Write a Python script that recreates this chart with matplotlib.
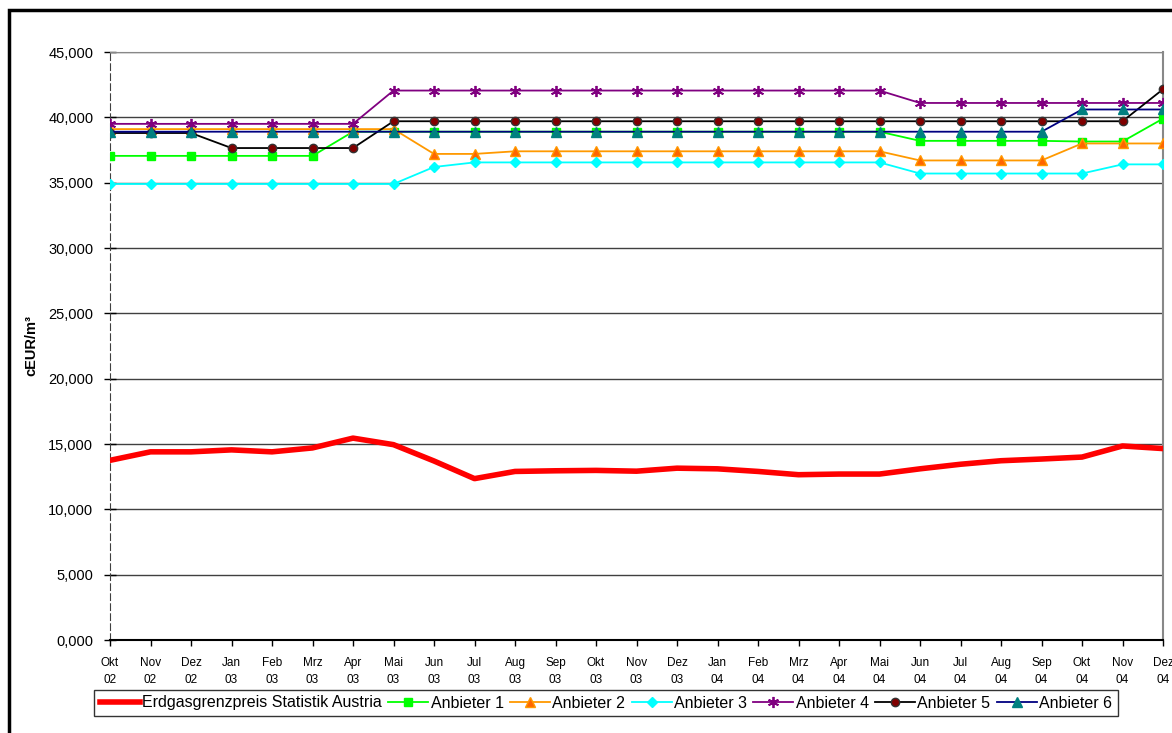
import numpy as np
import matplotlib.pyplot as plt
from matplotlib.patches import Rectangle
from matplotlib.ticker import FuncFormatter

plt.rcParams['font.family'] = ['Liberation Sans', 'DejaVu Sans']

months = ['Okt\n02', 'Nov\n02', 'Dez\n02', 'Jan\n03', 'Feb\n03', 'Mrz\n03', 'Apr\n03', 'Mai\n03',
          'Jun\n03', 'Jul\n03', 'Aug\n03', 'Sep\n03', 'Okt\n03', 'Nov\n03', 'Dez\n03', 'Jan\n04',
          'Feb\n04', 'Mrz\n04', 'Apr\n04', 'Mai\n04', 'Jun\n04', 'Jul\n04', 'Aug\n04', 'Sep\n04',
          'Okt\n04', 'Nov\n04', 'Dez\n04']

statistik = [13750, 14400, 14400, 14550, 14400, 14700, 15450, 14950, 13700, 12350, 12900, 12950,
             12980, 12920, 13150, 13100, 12900, 12650, 12700, 12700, 13100, 13450, 13720, 13850,
             14000, 14850, 14650]
anbieter1 = [37050]*6 + [38900]*14 + [38200]*4 + [38150]*2 + [39900]
anbieter2 = [39100]*8 + [37200]*2 + [37400]*10 + [36700]*4 + [38000]*3
anbieter3 = [34900]*8 + [36200] + [36550]*11 + [35700]*5 + [36400]*2
anbieter4 = [39500]*7 + [42050]*13 + [41100]*7
anbieter5 = [38800]*3 + [37650]*4 + [39700]*19 + [42150]
anbieter6 = [38900]*24 + [40600]*3

x = np.arange(len(months))

fig = plt.figure(figsize=(11.72, 7.33), dpi=100)
ax = fig.add_axes([110/1172, 1-640/733, (1163-110)/1172, (640-52)/733])

ax.plot(x, statistik, color='#ff0000', lw=4, label='Erdgasgrenzpreis Statistik Austria', zorder=3)
ax.plot(x, anbieter1, color='#00ff00', lw=1.3, marker='s', ms=6, mfc='#00ff00', mec='#00ff00',
        label='Anbieter 1', zorder=4)
ax.plot(x, anbieter2, color='#ff9900', lw=1.3, marker='^', ms=6.5, mfc='#ff6600', mec='#ff9900',
        label='Anbieter 2', zorder=5)
ax.plot(x, anbieter3, color='#00ffff', lw=1.3, marker='D', ms=5, mfc='#00ffff', mec='#00ffff',
        label='Anbieter 3', zorder=6)
ax.plot(x, anbieter4, color='#800080', lw=1.3, marker=(6, 2, 0), ms=8, mew=1.3, mec='#800080',
        label='Anbieter 4', zorder=7)
ax.plot(x, anbieter5, color='#000000', lw=1.3, marker='o', ms=6, mfc='#800000', mec='#333333',
        label='Anbieter 5', zorder=8)
ax.plot(x, anbieter6, color='#000080', lw=1.3, marker='^', ms=6.5, mfc='#008080', mec='#008080',
        label='Anbieter 6', zorder=9)

ax.set_xlim(0, len(months)-1)
ax.set_ylim(0, 45000)
ax.set_yticks(np.arange(0, 45001, 5000))
ax.yaxis.set_major_formatter(FuncFormatter(lambda v, p: f'{int(v)//1000},{int(v)%1000:03d}'))
ax.set_xticks(x)
ax.set_xticklabels(months, fontsize=8.5, linespacing=1.55)
ax.tick_params(axis='y', labelsize=10.5, direction='inout', length=8, width=1, pad=8)
ax.tick_params(axis='x', direction='out', length=4, width=1, pad=8)
ax.grid(axis='y', color='#404040', lw=1)
ax.set_axisbelow(True)

ax.spines['left'].set_linestyle((0, (6, 3)))
ax.spines['left'].set_color('#404040')
ax.spines['bottom'].set_color('black')
ax.spines['bottom'].set_linewidth(1.5)
ax.spines['top'].set_color('#888888')
ax.spines['right'].set_color('#888888')
ax.spines['right'].set_linewidth(1.5)

ax.set_ylabel('cEUR/m³', fontsize=10.5, fontweight='bold', labelpad=0)
ax.yaxis.set_label_coords(-72/1053, 0.5)

leg = ax.legend(loc='center', bbox_to_anchor=(606/1172, 1-703/733), bbox_transform=fig.transFigure,
                ncol=7, fontsize=11.5, frameon=True, fancybox=False, edgecolor='black',
                handlelength=2.5, handletextpad=0.15, columnspacing=0.4, borderpad=0.35,
                borderaxespad=0)
leg.get_frame().set_linewidth(1)

# outer chart border
fig.patches.append(Rectangle((9/1172, -0.01), 1.0, 1-10/733+0.01, transform=fig.transFigure,
                             fill=False, edgecolor='black', lw=2.5))

plt.savefig('out.png', dpi=100)
